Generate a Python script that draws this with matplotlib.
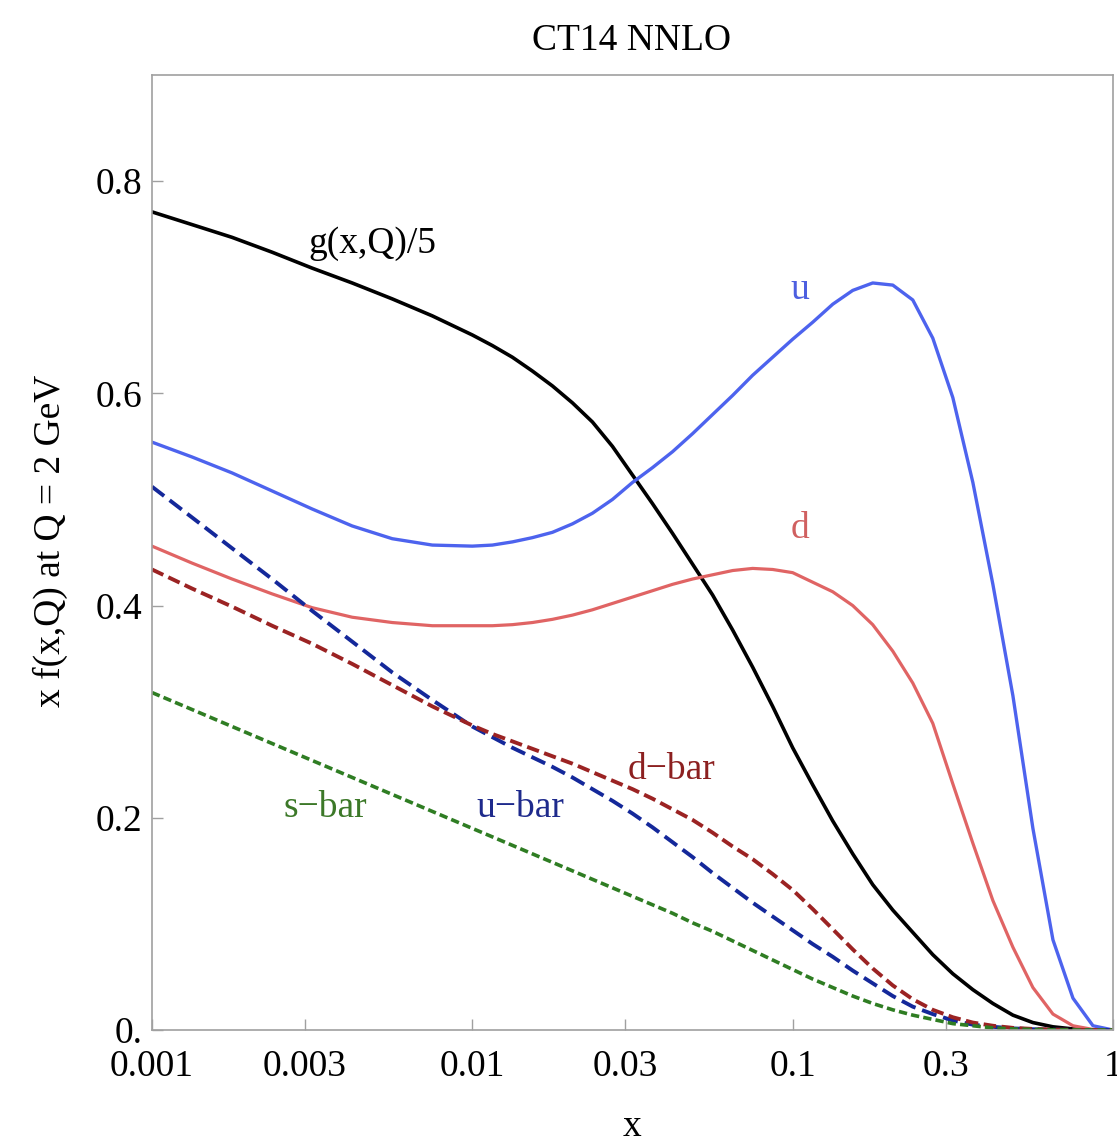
import matplotlib
matplotlib.use("Agg")
import matplotlib.pyplot as plt

plt.rcParams['font.family'] = ['Liberation Serif', 'DejaVu Serif']
plt.rcParams['lines.scale_dashes'] = False

# x grid (momentum fraction)
x_vals = [0.001, 0.001334, 0.001778, 0.002371, 0.003162, 0.004217, 0.005623, 0.007499,
          0.01, 0.01155, 0.01334, 0.01540, 0.01778, 0.02054, 0.02371, 0.02738,
          0.03162, 0.03652, 0.04217, 0.04870, 0.05623, 0.06494, 0.07499, 0.08660,
          0.1, 0.1155, 0.1334, 0.1540, 0.1778, 0.2054, 0.2371, 0.2738,
          0.3162, 0.3652, 0.4217, 0.4870, 0.5623, 0.6494, 0.7499, 0.8660, 1.0]

g_over5 = [0.771, 0.759, 0.747, 0.733, 0.718, 0.704, 0.689, 0.673,
           0.655, 0.645, 0.634, 0.621, 0.607, 0.591, 0.573, 0.550,
           0.523, 0.496, 0.468, 0.439, 0.410, 0.377, 0.342, 0.305,
           0.266, 0.231, 0.197, 0.166, 0.137, 0.113, 0.092, 0.071,
           0.053, 0.038, 0.025, 0.014, 0.007, 0.003, 0.001, 0.0, 0.0]

u_vals = [0.554, 0.540, 0.525, 0.508, 0.491, 0.475, 0.463, 0.457,
          0.456, 0.457, 0.460, 0.464, 0.469, 0.477, 0.487, 0.500,
          0.516, 0.530, 0.545, 0.562, 0.580, 0.598, 0.617, 0.634,
          0.651, 0.667, 0.684, 0.697, 0.704, 0.702, 0.688, 0.652,
          0.596, 0.516, 0.420, 0.315, 0.190, 0.085, 0.030, 0.004, 0.0]

d_vals = [0.456, 0.440, 0.425, 0.411, 0.398, 0.389, 0.384, 0.381,
          0.381, 0.381, 0.382, 0.384, 0.387, 0.391, 0.396, 0.402,
          0.408, 0.414, 0.420, 0.425, 0.429, 0.433, 0.435, 0.434,
          0.431, 0.422, 0.413, 0.400, 0.382, 0.357, 0.327, 0.289,
          0.232, 0.176, 0.122, 0.078, 0.040, 0.015, 0.004, 0.0005, 0.0]

ubar_vals = [0.512, 0.483, 0.454, 0.425, 0.395, 0.366, 0.337, 0.311,
             0.286, 0.276, 0.266, 0.257, 0.248, 0.238, 0.227, 0.216,
             0.204, 0.191, 0.177, 0.163, 0.148, 0.134, 0.120, 0.107,
             0.094, 0.081, 0.069, 0.056, 0.044, 0.032, 0.022, 0.015,
             0.009, 0.005, 0.003, 0.0015, 0.0007, 0.0003, 0.0001, 0.0, 0.0]

dbar_vals = [0.434, 0.416, 0.399, 0.381, 0.364, 0.345, 0.325, 0.305,
             0.287, 0.279, 0.272, 0.265, 0.258, 0.251, 0.243, 0.235,
             0.227, 0.218, 0.208, 0.198, 0.186, 0.173, 0.161, 0.147,
             0.132, 0.114, 0.095, 0.076, 0.058, 0.042, 0.029, 0.019,
             0.012, 0.007, 0.004, 0.002, 0.001, 0.0004, 0.0001, 0.0, 0.0]

sbar_vals = [0.318, 0.302, 0.286, 0.270, 0.254, 0.238, 0.222, 0.206,
             0.190, 0.182, 0.174, 0.166, 0.158, 0.150, 0.142, 0.134,
             0.126, 0.118, 0.110, 0.101, 0.093, 0.084, 0.075, 0.066,
             0.057, 0.048, 0.040, 0.032, 0.025, 0.019, 0.014, 0.010,
             0.006, 0.004, 0.002, 0.001, 0.0005, 0.0002, 0.0001, 0.0, 0.0]

x_ticks = [0.001, 0.003, 0.01, 0.03, 0.1, 0.3, 1]
x_tick_labels = ["0.001", "0.003", "0.01", "0.03", "0.1", "0.3", "1"]
y_ticks = [0.0, 0.2, 0.4, 0.6, 0.8]
y_tick_labels = ["0.", "0.2", "0.4", "0.6", "0.8"]

W, H = 1117, 1139
fig = plt.figure(figsize=(W / 100, H / 100), dpi=100)
ax = fig.add_axes([152 / W, 1 - 1030 / H, 961 / W, 955 / H])

FS = 27

ax.plot(x_vals, g_over5, color='black', lw=2.6)
ax.plot(x_vals, u_vals, color='#4d63ee', lw=2.4)
ax.plot(x_vals, d_vals, color='#e06464', lw=2.3)
ax.plot(x_vals, ubar_vals, color='#14289a', lw=2.8, dashes=(11, 5))
ax.plot(x_vals, dbar_vals, color='#9b2323', lw=2.8, dashes=(9, 4))
ax.plot(x_vals, sbar_vals, color='#2f7d23', lw=2.6, dashes=(6, 3))

ax.set_xscale('log')
ax.set_xlim(0.001, 1)
ax.set_ylim(0, 0.9)
ax.set_xticks(x_ticks)
ax.set_xticklabels(x_tick_labels)
ax.set_yticks(y_ticks)
ax.set_yticklabels(y_tick_labels)
ax.minorticks_off()

for s in ax.spines.values():
    s.set_color('#a0a0a0')
    s.set_linewidth(1.2)
ax.tick_params(axis='both', direction='in', length=8, width=1, color='#a0a0a0',
               labelsize=FS)
ax.tick_params(axis='x', pad=14)
ax.tick_params(axis='y', pad=7)
ax.tick_params(top=False, right=False)

# curve labels
ax.text(0.00486, 0.741, "g(x,Q)/5", fontsize=FS, color='black', ha='center', va='center')
ax.text(0.1054, 0.698, "u", fontsize=FS, color='#4d5fe0', ha='center', va='center')
ax.text(0.1054, 0.472, "d", fontsize=FS, color='#d06060', ha='center', va='center')
ax.text(0.0420, 0.245, "d\u2212bar", fontsize=FS, color='#8c2020', ha='center', va='center')
ax.text(0.01409, 0.209, "u\u2212bar", fontsize=FS, color='#1e2a8c', ha='center', va='center')
ax.text(0.00347, 0.209, "s\u2212bar", fontsize=FS, color='#3c7828', ha='center', va='center')

fig.text(632 / W, 1 - 41 / H, "CT14 NNLO", fontsize=FS, ha='center', va='center')
fig.text(50 / W, 1 - 541 / H, "x f(x,Q) at Q = 2 GeV", fontsize=FS, rotation=90,
         ha='center', va='center')
fig.text(632 / W, 1 - 1127 / H, "x", fontsize=FS, ha='center', va='center')

fig.savefig("out.png", dpi=100, facecolor='white')
